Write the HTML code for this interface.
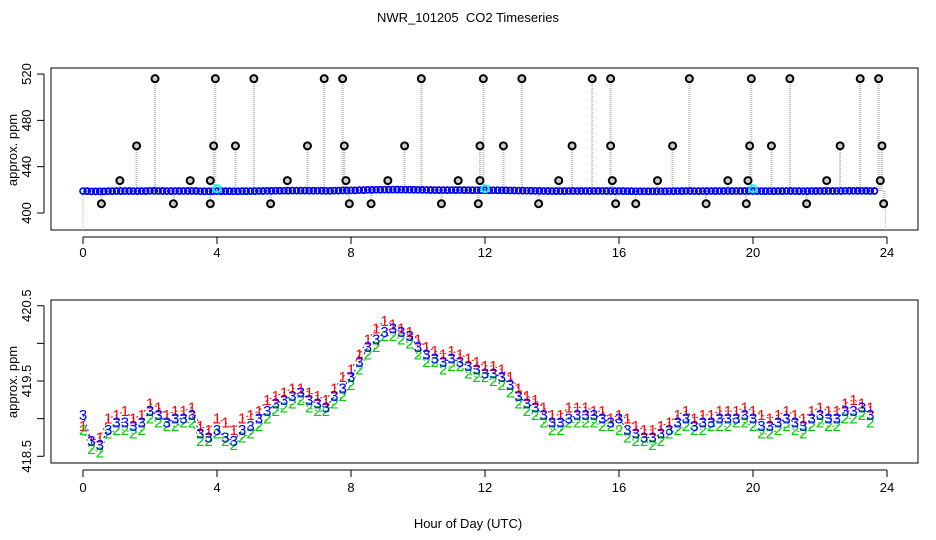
<!DOCTYPE html>
<html><head><meta charset="utf-8"><style>
body{margin:0;background:#fff;width:936px;height:540px;overflow:hidden}
svg{display:block;font-family:"Liberation Sans",sans-serif}
</style></head><body>
<svg id="chart" width="936" height="540">
<text x="468" y="22" font-size="13" text-anchor="middle">NWR_101205&#160; CO2 Timeseries</text>
<text x="468" y="528" font-size="13" text-anchor="middle">Hour of Day (UTC)</text>
<text transform="translate(17,150) rotate(-90)" font-size="13" text-anchor="middle">approx. ppm</text>
<text transform="translate(17,382) rotate(-90)" font-size="13" text-anchor="middle">approx. ppm</text>
<rect x="51" y="68" width="867" height="162" fill="none" stroke="#000"/>
<rect x="51" y="300" width="867" height="163" fill="none" stroke="#000"/>
<g id="top"></g>
<g id="bot"></g>
</svg>
<script>
const xTicks=[0,4,8,12,16,20,24];
const topYTicks=[400,440,480,520];
const botYTicks=[418.5,419,419.5,420,420.5];
const botYLabels=["418.5","","419.5","","420.5"];
const s3=[419.05,418.7,418.65,418.85,418.95,418.95,418.9,418.95,419.1,419.05,418.95,419.0,419.0,419.05,418.8,418.75,418.85,418.75,418.7,418.85,418.9,419.0,419.1,419.2,419.25,419.3,419.35,419.25,419.2,419.15,419.3,419.4,419.55,419.75,419.95,420.05,420.15,420.2,420.15,420.1,419.95,419.85,419.8,419.75,419.8,419.75,419.7,419.65,419.6,419.6,419.55,419.45,419.3,419.2,419.15,419.05,418.95,418.95,419.0,419.05,419.05,419.05,419.0,418.95,419.0,418.85,418.8,418.75,418.75,418.8,418.85,418.95,419.0,418.9,418.95,418.95,419.0,419.0,419.0,419.05,419.0,418.9,418.9,418.95,419.0,418.95,418.9,419.0,419.05,419.0,419.0,419.1,419.1,419.15,419.05];
const s1=[418.9,418.7,418.75,419.0,419.05,419.1,419.0,419.05,419.2,419.15,419.05,419.1,419.1,419.15,418.9,418.85,419.0,418.95,418.85,419.0,419.05,419.1,419.25,419.3,419.35,419.4,419.4,419.35,419.3,419.25,419.4,419.55,419.65,419.85,420.05,420.2,420.3,420.25,420.2,420.15,420.05,419.95,419.9,419.85,419.9,419.85,419.8,419.75,419.7,419.7,419.65,419.55,419.4,419.3,419.25,419.15,419.05,419.05,419.15,419.15,419.15,419.1,419.1,419.0,419.05,419.0,418.9,418.85,418.85,418.9,418.95,419.05,419.1,419.0,419.05,419.05,419.1,419.1,419.1,419.15,419.1,419.05,419.0,419.05,419.1,419.05,419.0,419.1,419.15,419.1,419.1,419.2,419.25,419.2,419.15];
const s2=[418.85,418.6,418.55,418.8,418.85,418.85,418.8,418.85,419.0,418.95,418.9,418.9,418.95,418.95,418.7,418.7,418.8,418.7,418.65,418.75,418.8,418.9,419.0,419.1,419.15,419.2,419.25,419.15,419.1,419.1,419.2,419.3,419.45,419.65,419.85,419.95,420.1,420.1,420.05,420.0,419.85,419.75,419.75,419.65,419.7,419.7,419.6,419.55,419.55,419.5,419.45,419.35,419.2,419.1,419.05,418.95,418.85,418.85,418.95,418.95,418.95,418.95,418.9,418.9,418.85,418.75,418.7,418.7,418.65,418.7,418.8,418.85,418.9,418.85,418.85,418.9,418.9,418.9,418.95,418.95,418.9,418.8,418.8,418.85,418.9,418.85,418.8,418.9,418.95,418.9,418.9,419.0,419.0,419.05,418.95];
const outT=[2.15,3.95,5.1,7.2,7.75,10.1,11.95,13.1,15.2,15.75,18.1,19.95,21.1,23.2,23.75,1.6,3.9,4.55,6.7,7.8,9.6,11.85,12.55,14.6,15.75,17.6,19.9,20.55,22.6,23.85,1.1,3.2,3.8,6.1,7.85,9.1,11.2,11.85,14.2,15.8,17.15,19.25,19.85,22.2,23.8,0.55,2.7,3.8,5.6,7.95,8.6,10.7,11.8,13.6,15.9,16.5,18.6,19.8,21.6,23.9];
const outV=[516,516,516,516,516,516,516,516,516,516,516,516,516,516,516,458,458,458,458,458,458,458,458,458,458,458,458,458,458,458,428,428,428,428,428,428,428,428,428,428,428,428,428,428,428,408,408,408,408,408,408,408,408,408,408,408,408,408,408,408];
const cyanT=[4.0,12.0,20.0];
const cyanV=[421,421,421];
const NS="http://www.w3.org/2000/svg";
const xs=h=>83+h*33.5;
const yTop=v=>213-(v-400)*1.158;
const yBot=v=>456.3-(v-418.5)*75.3;
const gTop=document.getElementById('top'),gBot=document.getElementById('bot');
function mk(p,tag,a){const e=document.createElementNS(NS,tag);for(const k in a)e.setAttribute(k,a[k]);p.appendChild(e);return e;}
function axes(g,yf,yt,yl,boxBottom,pfx,lblOff){
  const ax=mk(g,'g',{});
  
  
  mk(ax,'line',{x1:xs(0),x2:xs(24),y1:boxBottom+7,y2:boxBottom+7,stroke:'#000'});
  xTicks.forEach(t=>{mk(ax,'line',{x1:xs(t),x2:xs(t),y1:boxBottom+7,y2:boxBottom+14,stroke:'#000'});
    const tx=mk(ax,'text',{x:xs(t),y:boxBottom+lblOff,'font-size':13,'text-anchor':'middle'});tx.textContent=t;});
  const ay=mk(g,'g',{});
  
  
  mk(ay,'line',{x1:44,x2:44,y1:yf(yt[0]),y2:yf(yt[yt.length-1]),stroke:'#000'});
  yt.forEach((t,i)=>{mk(ay,'line',{x1:37,x2:44,y1:yf(t),y2:yf(t),stroke:'#000'});
    if(yl[i]!==''){const tx=mk(ay,'text',{transform:`translate(31,${yf(t)}) rotate(-90)`,'font-size':13,'text-anchor':'middle'});tx.textContent=yl[i];}});
}
axes(gTop,yTop,topYTicks,topYTicks.map(String),230,'top',27);
axes(gBot,yBot,botYTicks,botYLabels,463,'bottom',29);
const series=[[s1,'#f00'],[s2,'#0c0'],[s3,'#00f']];
mk(gTop,'line',{x1:xs(0),x2:xs(0),y1:yTop(419),y2:230,stroke:'#bbb','stroke-dasharray':'1,1'});
mk(gTop,'line',{x1:xs(23.95),x2:xs(23.95),y1:yTop(419),y2:230,stroke:'#bbb','stroke-dasharray':'1,1'});
outT.forEach((t,i)=>{const l=mk(gTop,'line',{x1:xs(t),x2:xs(t),y1:yTop(419),y2:yTop(outV[i]),stroke:'#bbb','stroke-width':2,'stroke-dasharray':'1,1'});
  
  });
series.forEach(([s,c],k)=>{s.forEach((v,i)=>{const cc=mk(gTop,'circle',{cx:xs(i*0.25),cy:yTop(v),r:3,fill:'none',stroke:c,'stroke-width':1.5});
  
  });});
series.forEach(([s,c],k)=>{s.forEach((v,i)=>{const cc=mk(gTop,'circle',{cx:xs(i*0.25+0.125),cy:yTop(v),r:3,fill:'none',stroke:'#00f','stroke-width':1.5});
  
  });});
outT.forEach((t,i)=>{const c=mk(gTop,'circle',{cx:xs(t),cy:yTop(outV[i]),r:3.5,fill:'#ccc',stroke:'#000','stroke-width':2});
  
  });
cyanT.forEach((t,i)=>{const c=mk(gTop,'circle',{cx:xs(t),cy:yTop(cyanV[i]),r:3.5,fill:'none',stroke:'#0ff','stroke-width':2});
  
  });
series.forEach(([s,c],k)=>{
  const d=s.map((v,i)=>(i?'L':'M')+xs(i*0.25).toFixed(1)+','+yBot(v).toFixed(1)).join('');
  const p=mk(gBot,'path',{d:d,fill:'none',stroke:c,'stroke-width':1,'stroke-dasharray':'2,3'});
  
  
  s.forEach((v,i)=>{const t=mk(gBot,'text',{x:xs(i*0.25),y:yBot(v)+5,fill:c,'font-size':15,'text-anchor':'middle'});
    t.textContent=String(k+1);
    
    });
});
</script>
</body></html>
